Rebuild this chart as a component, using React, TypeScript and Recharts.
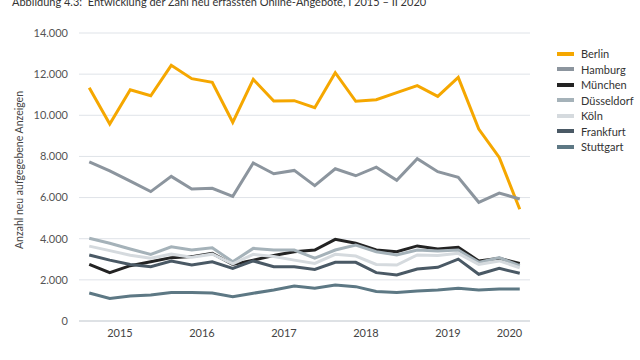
import { LineChart, Line, XAxis, YAxis, CartesianGrid } from 'recharts';

// quarters I 2015 .. II 2020
const quarters = [
  'I 2015', 'II 2015', 'III 2015', 'IV 2015',
  'I 2016', 'II 2016', 'III 2016', 'IV 2016',
  'I 2017', 'II 2017', 'III 2017', 'IV 2017',
  'I 2018', 'II 2018', 'III 2018', 'IV 2018',
  'I 2019', 'II 2019', 'III 2019', 'IV 2019',
  'I 2020', 'II 2020',
];

const berlin = [11340, 9580, 11240, 10950, 12430, 11780, 11600, 9660, 11750, 10690, 10710, 10370, 12070, 10680, 10760, 11100, 11440, 10920, 11840, 9330, 7950, 5430];
const hamburg = [7740, 7300, 6800, 6290, 7030, 6420, 6450, 6060, 7680, 7160, 7320, 6580, 7400, 7060, 7480, 6840, 7890, 7260, 6990, 5770, 6220, 5930];
const muenchen = [2750, 2350, 2690, 2880, 3080, 3130, 3290, 2750, 2960, 3180, 3370, 3450, 3970, 3780, 3450, 3370, 3650, 3500, 3580, 2920, 3050, 2800];
const duesseldorf = [4020, 3780, 3500, 3240, 3610, 3450, 3560, 2880, 3530, 3450, 3450, 3050, 3450, 3690, 3370, 3210, 3450, 3400, 3450, 2850, 3080, 2690];
const koeln = [3640, 3420, 3200, 3050, 3250, 3100, 3250, 2780, 3240, 3130, 2960, 2800, 3240, 3160, 2750, 2720, 3210, 3180, 3290, 2750, 2920, 2590];
const frankfurt = [3210, 2960, 2750, 2640, 2920, 2720, 2880, 2560, 2920, 2640, 2640, 2510, 2850, 2850, 2350, 2240, 2530, 2610, 3010, 2270, 2560, 2320];
const stuttgart = [1360, 1100, 1220, 1260, 1390, 1390, 1360, 1180, 1350, 1510, 1700, 1590, 1750, 1670, 1430, 1380, 1460, 1510, 1590, 1510, 1560, 1560];

const years = ['2015', '2016', '2017', '2018', '2019', '2020'];
const yearCenters = [2, 6, 10, 14, 18, 21];
const yearBounds = [0, 4, 8, 12, 16, 20, 22];
const yTicks = [0, 2000, 4000, 6000, 8000, 10000, 12000, 14000];

const series = [
  { key: 'Berlin', values: berlin, color: '#F5A700' },
  { key: 'Hamburg', values: hamburg, color: '#8C959E' },
  { key: 'München', values: muenchen, color: '#232323' },
  { key: 'Düsseldorf', values: duesseldorf, color: '#A5B2B9' },
  { key: 'Köln', values: koeln, color: '#D5DADE' },
  { key: 'Frankfurt', values: frankfurt, color: '#4A5965' },
  { key: 'Stuttgart', values: stuttgart, color: '#5D7884' },
];

const data = quarters.map((q, i) => {
  const row: Record<string, any> = { quarter: q, x: i + 0.5 };
  series.forEach(s => { row[s.key] = s.values[i]; });
  return row;
});

const FONT = 'Lato, "Open Sans", sans-serif';
const fmt = (v: number) => String(v).replace(/\B(?=(\d{3})+(?!\d))/g, '.');

export default function App() {
  return (
    <div style={{ position: 'relative', width: 640, height: 360, overflow: 'hidden', background: '#fff' }}>
      <style>{'body{margin:0}'}</style>
      <div style={{ position: 'absolute', left: 12, top: -5, fontFamily: FONT, fontSize: 11, color: '#333', whiteSpace: 'pre' }}>
        {'Abbildung 4.3:  Entwicklung der Zahl neu erfassten Online-Angebote, I 2015 – II 2020'}
      </div>
      <svg width={30} height={360} style={{ position: 'absolute', left: 0, top: 0 }}>
        <text x={23} y={170} transform="rotate(-90 23 170)" textAnchor="middle" fontFamily={FONT} fontSize={10.5} fill="#444">
          Anzahl neu aufgegebene Anzeigen
        </text>
      </svg>
      <div style={{ position: 'absolute', left: 557, top: 46, fontFamily: FONT, fontSize: 11, color: '#333' }}>
        {series.map(s => (
          <div key={s.key} style={{ display: 'flex', alignItems: 'center', height: 15.5 }}>
            <span style={{ display: 'inline-block', width: 17, height: 4, background: s.color, marginRight: 7 }} />
            <span>{s.key}</span>
          </div>
        ))}
      </div>
      <LineChart width={640} height={360} data={data} margin={{ top: 33, right: 110, bottom: 9, left: 0 }}>
        <CartesianGrid vertical={false} stroke="#DFE3E8" strokeWidth={1} />
        <XAxis
          xAxisId="q"
          dataKey="x"
          type="number"
          domain={[0, 22]}
          ticks={yearBounds}
          tick={false}
          tickSize={4}
          height={4}
          axisLine={{ stroke: '#CDD2D7' }}
          tickLine={{ stroke: '#CDD2D7' }}
        />
        <XAxis
          xAxisId="year"
          dataKey="x"
          type="number"
          domain={[0, 22]}
          ticks={yearCenters}
          tickFormatter={(v: number) => years[yearCenters.indexOf(v)] ?? ''}
          axisLine={false}
          tickLine={false}
          tickSize={0}
          tickMargin={4}
          height={26}
          interval={0}
          tick={{ fill: '#444', fontSize: 11, fontFamily: FONT }}
        />
        <YAxis
          domain={[0, 14000]}
          ticks={yTicks}
          width={79}
          axisLine={false}
          tickLine={false}
          tickMargin={5}
          tickFormatter={fmt}
          interval={0}
          tick={{ fill: '#555', fontSize: 11, fontFamily: FONT }}
        />
        {series.map(s => (
          <Line
            key={s.key}
            xAxisId="q"
            dataKey={s.key}
            stroke={s.color}
            strokeWidth={3}
            dot={false}
            activeDot={false}
            isAnimationActive={false}
          />
        ))}
      </LineChart>
    </div>
  );
}
